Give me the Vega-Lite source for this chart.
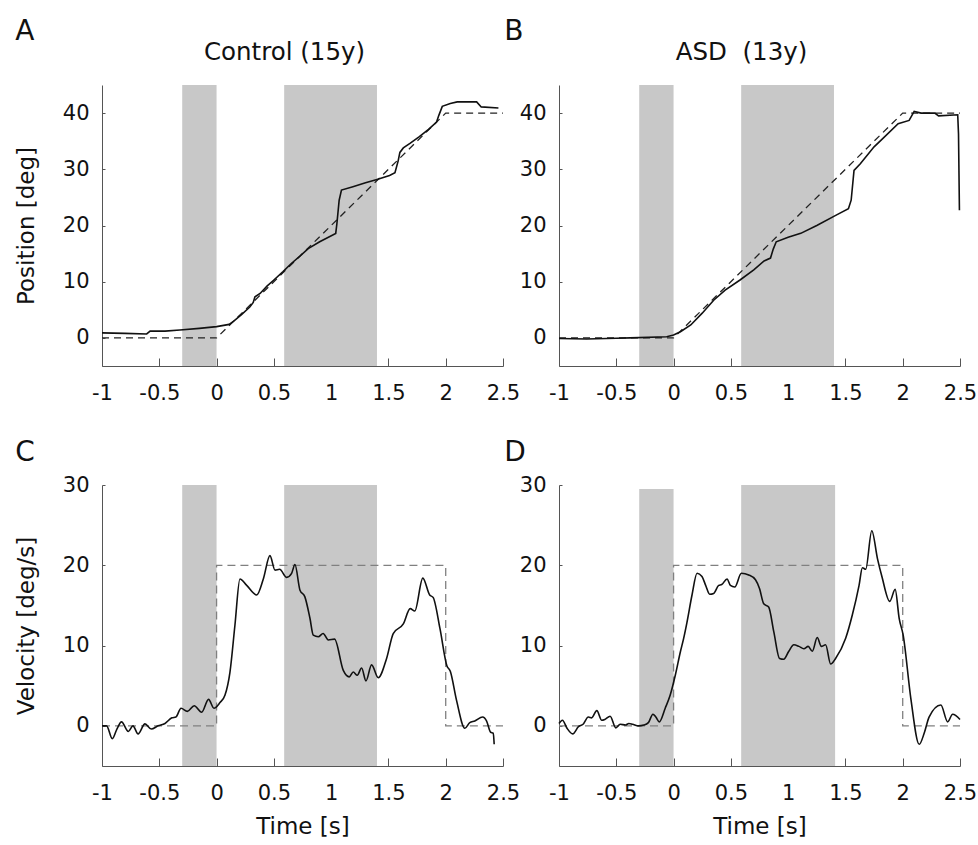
{
  "$schema": "https://vega.github.io/schema/vega-lite/v6.json",
  "background": "white",
  "padding": {"left": 15, "top": 17, "right": 4, "bottom": 4},
  "config": {
    "font": "DejaVu Sans",
    "view": {"stroke": null},
    "axis": {"grid": false, "labelFlush": false, "domainColor": "#555", "tickColor": "#555", "labelColor": "#111", "titleColor": "#111", "labelFontSize": 21, "titleFontSize": 23, "titleFontWeight": "normal", "labelFont": "DejaVu Sans", "titleFont": "DejaVu Sans"},
    "axisX": {"tickSize": -8, "labelPadding": 24, "titlePadding": 12},
    "axisY": {"tickSize": -3, "labelPadding": 16, "titlePadding": 24},
    "title": {"font": "DejaVu Sans", "fontWeight": "normal", "color": "#111"}
  },
  "datasets": {
    "bandsPos": [{"t": -0.3, "t2": 0, "v": -5, "v2": 45}, {"t": 0.59, "t2": 1.4, "v": -5, "v2": 45}],
    "bandsVelC": [{"t": -0.3, "t2": 0, "v": -5, "v2": 30}, {"t": 0.59, "t2": 1.4, "v": -5, "v2": 30}],
    "bandsVelD": [{"t": -0.3, "t2": 0, "v": -5, "v2": 29.5}, {"t": 0.59, "t2": 1.41, "v": -5, "v2": 30}],
    "idealPos": [{"t": -1, "v": 0, "i": 0}, {"t": 0, "v": 0, "i": 1}, {"t": 2, "v": 40, "i": 2}, {"t": 2.5, "v": 40, "i": 3}],
    "idealVel": [{"t": -1, "v": 0, "i": 0}, {"t": 0, "v": 0, "i": 1}, {"t": 0, "v": 20, "i": 2}, {"t": 2, "v": 20, "i": 3}, {"t": 2, "v": 0, "i": 4}, {"t": 2.5, "v": 0, "i": 5}],
    "posA": [
      {"t": -1, "v": 0.9}, {"t": -0.8, "v": 0.8}, {"t": -0.61, "v": 0.7}, {"t": -0.58, "v": 1.2}, {"t": -0.45, "v": 1.2}, {"t": -0.32, "v": 1.4}, {"t": -0.15, "v": 1.7}, {"t": 0, "v": 2.0}, {"t": 0.11, "v": 2.4}, {"t": 0.15, "v": 3.0}, {"t": 0.22, "v": 4.2}, {"t": 0.29, "v": 5.5}, {"t": 0.32, "v": 6.3}, {"t": 0.335, "v": 7.3}, {"t": 0.38, "v": 7.9}, {"t": 0.44, "v": 9.2}, {"t": 0.5, "v": 10.3}, {"t": 0.58, "v": 11.8}, {"t": 0.65, "v": 13.2}, {"t": 0.73, "v": 14.6}, {"t": 0.8, "v": 15.9}, {"t": 0.9, "v": 17.1}, {"t": 1.04, "v": 18.6}, {"t": 1.05, "v": 20.3}, {"t": 1.07, "v": 24.5}, {"t": 1.09, "v": 26.3}, {"t": 1.19, "v": 26.9}, {"t": 1.3, "v": 27.6}, {"t": 1.4, "v": 28.2}, {"t": 1.51, "v": 28.9}, {"t": 1.557, "v": 29.4}, {"t": 1.585, "v": 31.5}, {"t": 1.6, "v": 33.0}, {"t": 1.63, "v": 33.8}, {"t": 1.688, "v": 34.6}, {"t": 1.77, "v": 35.8}, {"t": 1.85, "v": 37.1}, {"t": 1.92, "v": 38.4}, {"t": 1.94, "v": 39.6}, {"t": 1.97, "v": 41.2}, {"t": 2.04, "v": 41.7}, {"t": 2.1, "v": 42.0}, {"t": 2.27, "v": 42.0}, {"t": 2.31, "v": 41.1}, {"t": 2.46, "v": 40.9}
    ],
    "posB": [
      {"t": -1, "v": -0.1}, {"t": -0.76, "v": -0.2}, {"t": -0.5, "v": -0.05}, {"t": -0.38, "v": 0}, {"t": -0.06, "v": 0.2}, {"t": 0, "v": 0.5}, {"t": 0.06, "v": 1.1}, {"t": 0.15, "v": 2.3}, {"t": 0.25, "v": 4.4}, {"t": 0.35, "v": 6.7}, {"t": 0.45, "v": 8.5}, {"t": 0.58, "v": 10.3}, {"t": 0.7, "v": 12.1}, {"t": 0.79, "v": 13.7}, {"t": 0.846, "v": 14.2}, {"t": 0.87, "v": 15.8}, {"t": 0.896, "v": 17.1}, {"t": 1.0, "v": 17.9}, {"t": 1.11, "v": 18.6}, {"t": 1.25, "v": 20.0}, {"t": 1.415, "v": 21.8}, {"t": 1.526, "v": 23.0}, {"t": 1.55, "v": 24.5}, {"t": 1.575, "v": 29.8}, {"t": 1.63, "v": 31.0}, {"t": 1.75, "v": 34.0}, {"t": 1.823, "v": 35.4}, {"t": 1.96, "v": 38.1}, {"t": 2.056, "v": 38.7}, {"t": 2.1, "v": 40.3}, {"t": 2.16, "v": 40.0}, {"t": 2.28, "v": 40.0}, {"t": 2.313, "v": 39.5}, {"t": 2.48, "v": 39.7}, {"t": 2.487, "v": 36.3}, {"t": 2.495, "v": 22.7}
    ],
    "velC": [
      {"t": -1, "v": 0}, {"t": -0.96, "v": 0}, {"t": -0.91, "v": -1.6}, {"t": -0.87, "v": -0.4}, {"t": -0.83, "v": 0.5}, {"t": -0.77, "v": -0.7}, {"t": -0.73, "v": 0}, {"t": -0.685, "v": -1.0}, {"t": -0.625, "v": 0.25}, {"t": -0.57, "v": -0.4}, {"t": -0.51, "v": 0}, {"t": -0.45, "v": 0.3}, {"t": -0.39, "v": 1.0}, {"t": -0.355, "v": 1.1}, {"t": -0.31, "v": 2.2}, {"t": -0.255, "v": 1.8}, {"t": -0.195, "v": 2.5}, {"t": -0.13, "v": 1.7}, {"t": -0.07, "v": 3.3}, {"t": -0.023, "v": 2.2}, {"t": 0.03, "v": 2.9}, {"t": 0.073, "v": 3.8}, {"t": 0.117, "v": 6.7}, {"t": 0.16, "v": 12.5}, {"t": 0.204, "v": 18.3}, {"t": 0.263, "v": 17.5}, {"t": 0.35, "v": 16.3}, {"t": 0.408, "v": 18.3}, {"t": 0.466, "v": 21.2}, {"t": 0.51, "v": 19.4}, {"t": 0.55, "v": 19.5}, {"t": 0.612, "v": 18.5}, {"t": 0.655, "v": 19.0}, {"t": 0.684, "v": 20.1}, {"t": 0.728, "v": 16.9}, {"t": 0.77, "v": 16.1}, {"t": 0.815, "v": 13.4}, {"t": 0.844, "v": 11.3}, {"t": 0.888, "v": 11.1}, {"t": 0.93, "v": 11.5}, {"t": 0.975, "v": 10.7}, {"t": 1.03, "v": 10.8}, {"t": 1.106, "v": 6.9}, {"t": 1.158, "v": 6.1}, {"t": 1.193, "v": 6.7}, {"t": 1.228, "v": 6.3}, {"t": 1.266, "v": 7.2}, {"t": 1.304, "v": 5.6}, {"t": 1.353, "v": 7.6}, {"t": 1.411, "v": 6.0}, {"t": 1.484, "v": 8.4}, {"t": 1.542, "v": 11.5}, {"t": 1.63, "v": 12.7}, {"t": 1.69, "v": 14.6}, {"t": 1.73, "v": 14.3}, {"t": 1.8, "v": 18.4}, {"t": 1.86, "v": 16.3}, {"t": 1.89, "v": 16.0}, {"t": 1.95, "v": 12.1}, {"t": 2.01, "v": 7.5}, {"t": 2.04, "v": 6.8}, {"t": 2.094, "v": 3.2}, {"t": 2.167, "v": -0.3}, {"t": 2.21, "v": 0.4}, {"t": 2.254, "v": 0.6}, {"t": 2.322, "v": 1.1}, {"t": 2.357, "v": 0.6}, {"t": 2.392, "v": -0.8}, {"t": 2.415, "v": -0.9}, {"t": 2.423, "v": -2.3}
    ],
    "velD": [
      {"t": -1, "v": 0.3}, {"t": -0.97, "v": 0.7}, {"t": -0.93, "v": -0.3}, {"t": -0.88, "v": -1.0}, {"t": -0.83, "v": -0.1}, {"t": -0.79, "v": 0.2}, {"t": -0.744, "v": 1.1}, {"t": -0.715, "v": 1.0}, {"t": -0.67, "v": 1.9}, {"t": -0.627, "v": 0.7}, {"t": -0.6, "v": 0.8}, {"t": -0.554, "v": 1.2}, {"t": -0.504, "v": -0.25}, {"t": -0.466, "v": 0.2}, {"t": -0.42, "v": 0.1}, {"t": -0.39, "v": 0.3}, {"t": -0.358, "v": 0.2}, {"t": -0.306, "v": 0.0}, {"t": -0.26, "v": 0.1}, {"t": -0.22, "v": 0.4}, {"t": -0.18, "v": 1.45}, {"t": -0.155, "v": 1.1}, {"t": -0.125, "v": 0.5}, {"t": -0.073, "v": 2.2}, {"t": -0.03, "v": 3.8}, {"t": 0.015, "v": 6.3}, {"t": 0.059, "v": 9.2}, {"t": 0.088, "v": 10.9}, {"t": 0.117, "v": 12.9}, {"t": 0.161, "v": 16.3}, {"t": 0.205, "v": 19.0}, {"t": 0.248, "v": 18.6}, {"t": 0.28, "v": 17.5}, {"t": 0.315, "v": 16.4}, {"t": 0.35, "v": 16.5}, {"t": 0.394, "v": 17.5}, {"t": 0.42, "v": 17.6}, {"t": 0.467, "v": 18.3}, {"t": 0.496, "v": 17.5}, {"t": 0.534, "v": 17.3}, {"t": 0.592, "v": 19.0}, {"t": 0.656, "v": 18.8}, {"t": 0.715, "v": 18.2}, {"t": 0.75, "v": 17.1}, {"t": 0.787, "v": 15.2}, {"t": 0.83, "v": 14.8}, {"t": 0.875, "v": 11.7}, {"t": 0.925, "v": 8.4}, {"t": 0.962, "v": 8.3}, {"t": 1.006, "v": 9.3}, {"t": 1.05, "v": 10.1}, {"t": 1.094, "v": 9.9}, {"t": 1.137, "v": 9.6}, {"t": 1.175, "v": 9.9}, {"t": 1.211, "v": 9.3}, {"t": 1.254, "v": 11.0}, {"t": 1.29, "v": 9.9}, {"t": 1.327, "v": 10.1}, {"t": 1.371, "v": 7.7}, {"t": 1.414, "v": 8.4}, {"t": 1.502, "v": 10.9}, {"t": 1.56, "v": 13.8}, {"t": 1.619, "v": 17.5}, {"t": 1.648, "v": 19.7}, {"t": 1.677, "v": 19.5}, {"t": 1.73, "v": 24.3}, {"t": 1.78, "v": 20.8}, {"t": 1.82, "v": 18.5}, {"t": 1.887, "v": 15.5}, {"t": 1.934, "v": 17.0}, {"t": 1.969, "v": 13.4}, {"t": 2.004, "v": 11.3}, {"t": 2.071, "v": 3.4}, {"t": 2.144, "v": -2.3}, {"t": 2.19, "v": -0.8}, {"t": 2.23, "v": 1.1}, {"t": 2.333, "v": 2.6}, {"t": 2.392, "v": 0.5}, {"t": 2.436, "v": 1.45}, {"t": 2.5, "v": 0.8}
    ]
  },
  "spacing": 36,
  "vconcat": [
    {
      "spacing": -16,
      "hconcat": [
        {
          "title": {"text": "A", "anchor": "start", "fontSize": 28, "offset": -6},
          "vconcat": [
            {
              "width": 401, "height": 281,
              "title": {"text": "Control (15y)", "fontSize": 24.5, "anchor": "middle", "dx": -18, "offset": 20},
              "encoding": {
                "x": {"field": "t", "type": "quantitative", "scale": {"domain": [-1, 2.5], "nice": false, "zero": false}, "axis": {"values": [-1, -0.5, 0, 0.5, 1, 1.5, 2, 2.5], "labelExpr": "'' + datum.value", "title": null}},
                "y": {"field": "v", "type": "quantitative", "scale": {"domain": [-5, 45], "nice": false, "zero": false}, "axis": {"values": [0, 10, 20, 30, 40], "title": "Position [deg]"}}
              },
              "layer": [
                {"data": {"name": "bandsPos"}, "mark": {"type": "rect", "color": "#c8c8c8"}, "encoding": {"x2": {"field": "t2"}, "y2": {"field": "v2"}}},
                {"data": {"name": "idealPos"}, "mark": {"type": "line", "color": "#222", "strokeWidth": 1.3, "strokeDash": [7, 5]}, "encoding": {"order": {"field": "i"}}},
                {"data": {"name": "posA"}, "mark": {"type": "line", "color": "#111", "strokeWidth": 1.6}, "encoding": {}}
              ]
            }
          ]
        },
        {
          "title": {"text": "B", "anchor": "start", "fontSize": 28, "offset": -6, "dx": -15},
          "vconcat": [
            {
              "width": 401, "height": 281,
              "title": {"text": "ASD\u00a0 (13y)", "fontSize": 24.5, "anchor": "middle", "dx": -18, "offset": 20},
              "encoding": {
                "x": {"field": "t", "type": "quantitative", "scale": {"domain": [-1, 2.5], "nice": false, "zero": false}, "axis": {"values": [-1, -0.5, 0, 0.5, 1, 1.5, 2, 2.5], "labelExpr": "'' + datum.value", "title": null}},
                "y": {"field": "v", "type": "quantitative", "scale": {"domain": [-5, 45], "nice": false, "zero": false}, "axis": {"values": [0, 10, 20, 30, 40], "title": null}}
              },
              "layer": [
                {"data": {"name": "bandsPos"}, "mark": {"type": "rect", "color": "#c8c8c8"}, "encoding": {"x2": {"field": "t2"}, "y2": {"field": "v2"}}},
                {"data": {"name": "idealPos"}, "mark": {"type": "line", "color": "#222", "strokeWidth": 1.3, "strokeDash": [7, 5]}, "encoding": {"order": {"field": "i"}}},
                {"data": {"name": "posB"}, "mark": {"type": "line", "color": "#111", "strokeWidth": 1.6}, "encoding": {}}
              ]
            }
          ]
        }
      ]
    },
    {
      "spacing": -16,
      "hconcat": [
        {
          "title": {"text": "C", "anchor": "start", "fontSize": 28, "offset": 7},
          "vconcat": [
            {
              "width": 401, "height": 281,
              "encoding": {
                "x": {"field": "t", "type": "quantitative", "scale": {"domain": [-1, 2.5], "nice": false, "zero": false}, "axis": {"values": [-1, -0.5, 0, 0.5, 1, 1.5, 2, 2.5], "labelExpr": "'' + datum.value", "title": "Time [s]"}},
                "y": {"field": "v", "type": "quantitative", "scale": {"domain": [-5, 30], "nice": false, "zero": false}, "axis": {"values": [0, 10, 20, 30], "title": "Velocity [deg/s]"}}
              },
              "layer": [
                {"data": {"name": "bandsVelC"}, "mark": {"type": "rect", "color": "#c8c8c8"}, "encoding": {"x2": {"field": "t2"}, "y2": {"field": "v2"}}},
                {"data": {"name": "idealVel"}, "mark": {"type": "line", "color": "#808080", "strokeWidth": 1.3, "strokeDash": [8, 5]}, "encoding": {"order": {"field": "i"}}},
                {"data": {"name": "velC"}, "mark": {"type": "line", "color": "#111", "strokeWidth": 1.6, "interpolate": "monotone"}, "encoding": {}}
              ]
            }
          ]
        },
        {
          "title": {"text": "D", "anchor": "start", "fontSize": 28, "offset": 7, "dx": -15},
          "vconcat": [
            {
              "width": 401, "height": 281,
              "encoding": {
                "x": {"field": "t", "type": "quantitative", "scale": {"domain": [-1, 2.5], "nice": false, "zero": false}, "axis": {"values": [-1, -0.5, 0, 0.5, 1, 1.5, 2, 2.5], "labelExpr": "'' + datum.value", "title": "Time [s]"}},
                "y": {"field": "v", "type": "quantitative", "scale": {"domain": [-5, 30], "nice": false, "zero": false}, "axis": {"values": [0, 10, 20, 30], "title": null}}
              },
              "layer": [
                {"data": {"name": "bandsVelD"}, "mark": {"type": "rect", "color": "#c8c8c8"}, "encoding": {"x2": {"field": "t2"}, "y2": {"field": "v2"}}},
                {"data": {"name": "idealVel"}, "mark": {"type": "line", "color": "#808080", "strokeWidth": 1.3, "strokeDash": [8, 5]}, "encoding": {"order": {"field": "i"}}},
                {"data": {"name": "velD"}, "mark": {"type": "line", "color": "#111", "strokeWidth": 1.6, "interpolate": "monotone"}, "encoding": {}}
              ]
            }
          ]
        }
      ]
    }
  ]
}
